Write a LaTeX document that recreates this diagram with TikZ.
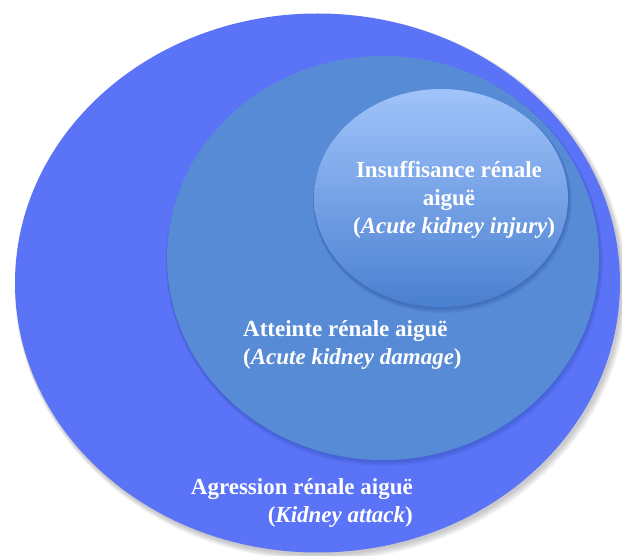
\documentclass[tikz,border=0pt]{standalone}
\usepackage{fontspec}
\setmainfont{Liberation Serif}
\usetikzlibrary{shapes.geometric}
\definecolor{outerblue}{RGB}{90,115,247}
\definecolor{midblue}{RGB}{87,139,214}
\definecolor{intop}{RGB}{160,196,250}
\definecolor{inmid}{RGB}{118,162,230}
\definecolor{inbot}{RGB}{74,128,208}
\definecolor{shadowgray}{RGB}{60,60,70}
\definecolor{shadowblue}{RGB}{30,60,140}
\begin{document}
\begin{tikzpicture}[x=1pt,y=-1pt,
  blob/.style={ellipse,inner sep=0pt,outer sep=0pt},
  lbl/.style={text=white,font=\bfseries\fontsize{23}{28}\selectfont,inner sep=0pt}]
\useasboundingbox (0,0) rectangle (622,556);
% soft shadow of the outer ellipse
\foreach \i in {1,...,6}{
  \fill[shadowgray,opacity=0.05] ({318.5+0.4*\i},{284.5+0.5*\i}) ellipse [x radius={302.5+0.6*\i}, y radius={269.5+0.6*\i}];
}
\node[blob,fill=outerblue,minimum width=605pt,minimum height=539pt] (outer) at (317.5,283) {};
% soft shadow of the middle ellipse
\foreach \i in {1,...,5}{
  \fill[shadowblue,opacity=0.06] ({383+0.3*\i},{259+0.5*\i}) ellipse [x radius={216+0.5*\i}, y radius={202+0.5*\i}];
}
\node[blob,fill=midblue,minimum width=432pt,minimum height=404pt] (middle) at (383,258) {};
% soft shadow of the inner ellipse
\foreach \i in {1,...,5}{
  \fill[shadowblue,opacity=0.07] ({441+0.3*\i},{199+0.5*\i}) ellipse [x radius={127+0.5*\i}, y radius={109+0.5*\i}];
}
\node[blob,top color=intop,bottom color=inbot,middle color=inmid,minimum width=254pt,minimum height=218pt] (inner) at (441,198) {};
\node[lbl,align=center] (aki) at (449,200) {Insuffisance rénale\\aiguë\\\hspace{0.45em}(\textit{Acute kidney injury})};
\node[lbl,align=left,anchor=west] (akd) at (243,345) {Atteinte rénale aiguë\\(\textit{Acute kidney damage})};
\node[lbl,align=right,anchor=east] (ka) at (413,503) {Agression rénale aiguë\\(\textit{Kidney attack})};
\end{tikzpicture}
\end{document}
